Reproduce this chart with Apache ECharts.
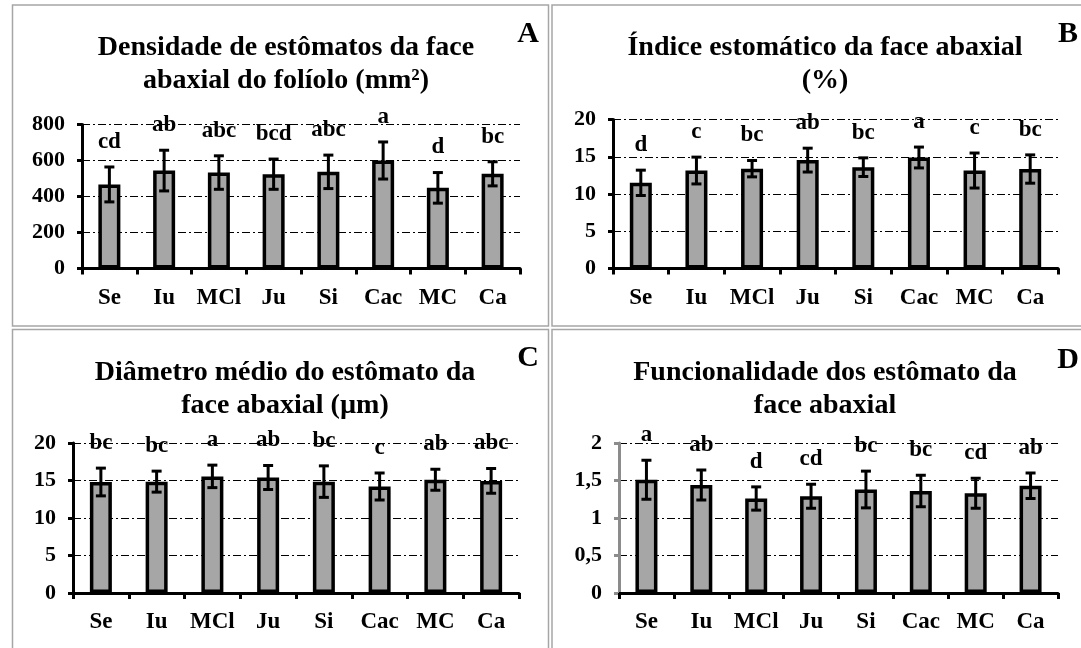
<!DOCTYPE html>
<html>
<head>
<meta charset="utf-8">
<script src="https://cdn.jsdelivr.net/npm/echarts@6/dist/echarts.min.js"></script>
<style>
html,body{margin:0;padding:0;background:#fff;}
#chart{width:1081px;height:648px;}
</style>
</head>
<body>
<div id="chart"></div>
<script>
// ---- data ----
const categories = ['Se', 'Iu', 'MCl', 'Ju', 'Si', 'Cac', 'MC', 'Ca'];

const densidadeMean = [467, 544, 533, 524, 537, 600, 448, 526];
const densidadeErr = [97, 113, 93, 84, 93, 103, 85, 67];
const densidadeLetters = ['cd', 'ab', 'abc', 'bcd', 'abc', 'a', 'd', 'bc'];

const indiceMean = [11.5, 13.15, 13.4, 14.55, 13.6, 14.9, 13.15, 13.35];
const indiceErr = [1.7, 1.8, 1.1, 1.6, 1.25, 1.4, 2.35, 1.9];
const indiceLetters = ['d', 'c', 'bc', 'ab', 'bc', 'a', 'c', 'bc'];

const diametroMean = [14.8, 14.85, 15.55, 15.4, 14.85, 14.2, 15.1, 14.95];
const diametroErr = [1.85, 1.4, 1.5, 1.6, 2.1, 1.8, 1.4, 1.65];
const diametroLetters = ['bc', 'bc', 'a', 'ab', 'bc', 'c', 'ab', 'abc'];

const funcMean = [1.51, 1.44, 1.26, 1.29, 1.38, 1.36, 1.33, 1.43];
const funcErr = [0.26, 0.2, 0.155, 0.16, 0.245, 0.21, 0.2, 0.17];
const funcLetters = ['a', 'ab', 'd', 'cd', 'bc', 'bc', 'cd', 'ab'];

const titles = [
  'Densidade de estômatos da face\nabaxial do folíolo (mm²)',
  'Índice estomático da face abaxial\n(%)',
  'Diâmetro médio do estômato da\nface abaxial (µm)',
  'Funcionalidade dos estômato da\nface abaxial'
];
const panelLetters = ['A', 'B', 'C', 'D'];
const yMax = [800, 20, 20, 2];
const yInterval = [200, 5, 5, 0.5];

// ---- layout ----
const FONT = '"Liberation Serif", "Times New Roman", serif';
const panels = [
  { grid: { left: 82, top: 124.5, width: 438, height: 144 }, titleX: 281, titleY: 26, letterX: 528, letterY: 34, yColor: '#000' },
  { grid: { left: 613, top: 119.5, width: 445, height: 149 }, titleX: 820, titleY: 26, letterX: 1068, letterY: 34, yColor: '#000' },
  { grid: { left: 73, top: 443, width: 446, height: 150 }, titleX: 280, titleY: 351, letterX: 528, letterY: 358, yColor: '#000' },
  { grid: { left: 619, top: 443, width: 439, height: 150 }, titleX: 820, titleY: 351, letterX: 1068, letterY: 360, yColor: '#8c8c8c' }
];
const means = [densidadeMean, indiceMean, diametroMean, funcMean];
const errs = [densidadeErr, indiceErr, diametroErr, funcErr];
const letters = [densidadeLetters, indiceLetters, diametroLetters, funcLetters];

const option = {
  backgroundColor: '#fff',
  animation: false,
  title: [],
  grid: [],
  xAxis: [],
  yAxis: [],
  series: [],
  graphic: []
};

// panel borders
const borderStyle = { fill: 'none', stroke: '#a6a6a6', lineWidth: 1.5 };
option.graphic.push(
  { type: 'rect', shape: { x: 12.5, y: 5, width: 536, height: 321 }, style: borderStyle, silent: true },
  { type: 'rect', shape: { x: 552, y: 5, width: 545, height: 321 }, style: borderStyle, silent: true },
  { type: 'rect', shape: { x: 12.5, y: 329.5, width: 536, height: 330 }, style: borderStyle, silent: true },
  { type: 'rect', shape: { x: 552, y: 329.5, width: 545, height: 330 }, style: borderStyle, silent: true }
);

panels.forEach((p, k) => {
  option.grid.push(Object.assign({ outerBoundsMode: 'none', containLabel: false }, p.grid));
  option.title.push({
    text: titles[k],
    left: p.titleX,
    top: p.titleY,
    textAlign: 'center',
    textStyle: { fontFamily: FONT, fontWeight: 'bold', fontSize: 28, lineHeight: 33, color: '#000' }
  });
  option.graphic.push({
    type: 'text', x: p.letterX, y: p.letterY, silent: true,
    style: { text: panelLetters[k], fontFamily: FONT, fontWeight: 'bold', fontSize: 30, fill: '#000', align: 'center', verticalAlign: 'middle' }
  });
  option.xAxis.push({
    type: 'category',
    gridIndex: k,
    data: categories,
    axisLine: { lineStyle: { color: '#000', width: 3 } },
    axisTick: { show: true, length: 6, lineStyle: { color: '#000', width: 3 } },
    axisLabel: { margin: 18, color: '#000', fontFamily: FONT, fontWeight: 'bold', fontSize: 23, interval: 0 },
    splitLine: { show: false }
  });
  option.yAxis.push({
    type: 'value',
    gridIndex: k,
    min: 0,
    max: yMax[k],
    interval: yInterval[k],
    axisLine: { show: true, lineStyle: { color: p.yColor, width: 3 } },
    axisTick: { show: true, length: 5, lineStyle: { color: p.yColor, width: 3 } },
    axisLabel: {
      margin: 17, color: '#000', fontFamily: FONT, fontWeight: 'bold', fontSize: 22,
      formatter: v => String(v).replace('.', ',')
    },
    splitLine: { show: true, lineStyle: { color: '#000', width: 1, type: [8, 3, 2, 3] } }
  });
  option.series.push({
    type: 'bar',
    xAxisIndex: k,
    yAxisIndex: k,
    data: means[k],
    barWidth: 22,
    itemStyle: { color: '#a6a6a6', borderColor: '#000', borderWidth: 3.5 },
    z: 3
  });
  const lt = letters[k];
  option.series.push({
    type: 'custom',
    xAxisIndex: k,
    yAxisIndex: k,
    clip: false,
    z: 5,
    data: means[k].map((m, i) => [i, m, errs[k][i]]),
    renderItem: function (params, api) {
      const i = api.value(0), m = api.value(1), e = api.value(2);
      const top = api.coord([i, m + e]);
      const bot = api.coord([i, m - e]);
      const x = top[0];
      const cap = 5;
      const st = { stroke: '#000', lineWidth: 3 };
      return {
        type: 'group',
        children: [
          { type: 'line', shape: { x1: x, y1: top[1], x2: x, y2: bot[1] }, style: st },
          { type: 'line', shape: { x1: x - cap, y1: top[1], x2: x + cap, y2: top[1] }, style: st },
          { type: 'line', shape: { x1: x - cap, y1: bot[1], x2: x + cap, y2: bot[1] }, style: st },
          {
            type: 'text', x: x, y: top[1] - 25,
            style: { text: lt[params.dataIndex], fontFamily: FONT, fontWeight: 'bold', fontSize: 23, fill: '#000', align: 'center', verticalAlign: 'middle' }
          }
        ]
      };
    }
  });
});

const chart = echarts.init(document.getElementById('chart'), null, { renderer: 'canvas' });
chart.setOption(option);
</script>
</body>
</html>
